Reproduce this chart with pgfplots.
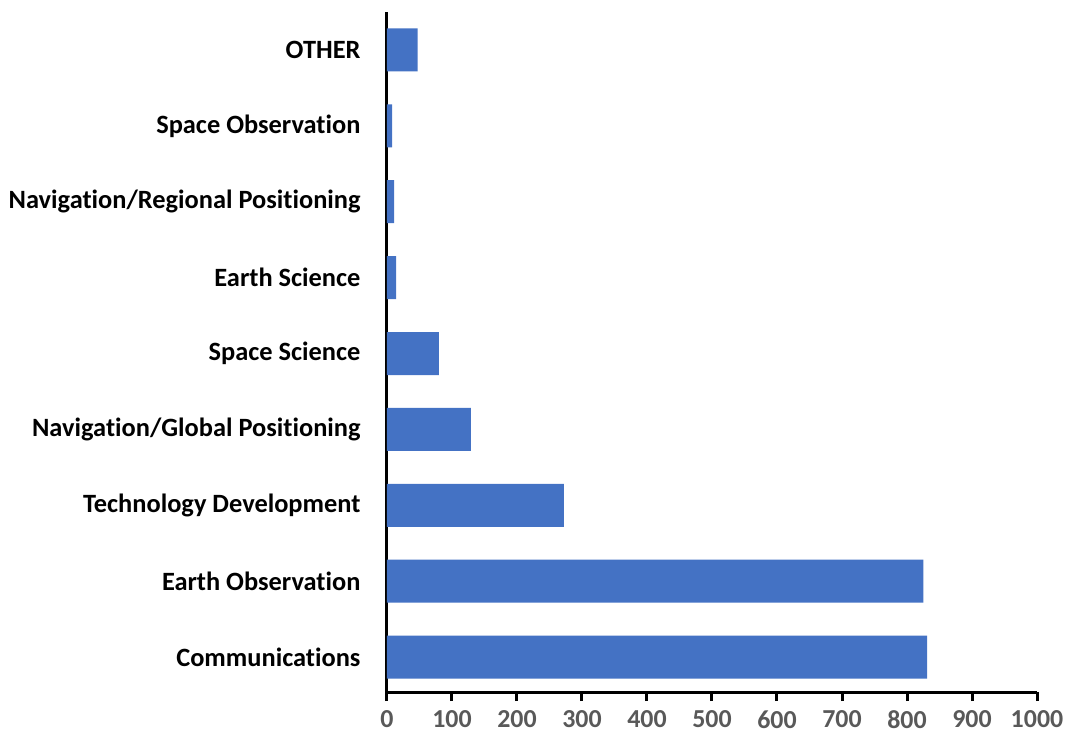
\documentclass[border=0pt]{standalone}
\usepackage{pgfplots}
\pgfplotsset{compat=1.18}
\usepackage{fontspec}
\setmainfont{Carlito}[Ligatures=NoCommon]
\definecolor{barblue}{HTML}{4472C4}
\definecolor{tickgray}{HTML}{595959}
\begin{document}
\begin{tikzpicture}
\useasboundingbox (-387bp,-51bp) rectangle (680bp,692bp);
\begin{axis}[
  scale only axis,
  width=650bp, height=680bp,
  at={(0,0)}, anchor=south west,
  xbar, bar width=43bp,
  xmin=0, xmax=1000, ymin=-0.46, ymax=8.5,
  axis lines*=left,
  axis line style={line width=3bp, black},
  xtick={0,100,...,1000},
  xtick align=outside,
  major tick length=9bp,
  xtick style={line width=3bp, black},
  ytick={0,1,2,3,4,5,6,7,8},
  ytick style={draw=none},
  yticklabels={Communications,Earth Observation,Technology Development,Navigation/Global Positioning,Space Science,Earth Science,Navigation/Regional Positioning,Space Observation,OTHER},
  /pgf/number format/assume math mode=true,
  /pgf/number format/set thousands separator={},
  xticklabel style={font=\fontsize{26}{30}\selectfont\bfseries, text=tickgray, yshift=-6bp},
  yticklabel style={font=\fontsize{26.5}{30}\selectfont\bfseries, text=black, xshift=-14bp},
]
\addplot[fill=barblue, draw=none] coordinates {
  (831,0) (825,1) (272,2) (129,3) (80,4) (14,5) (11,6) (8,7) (47,8)
};
\end{axis}
\end{tikzpicture}
\end{document}
